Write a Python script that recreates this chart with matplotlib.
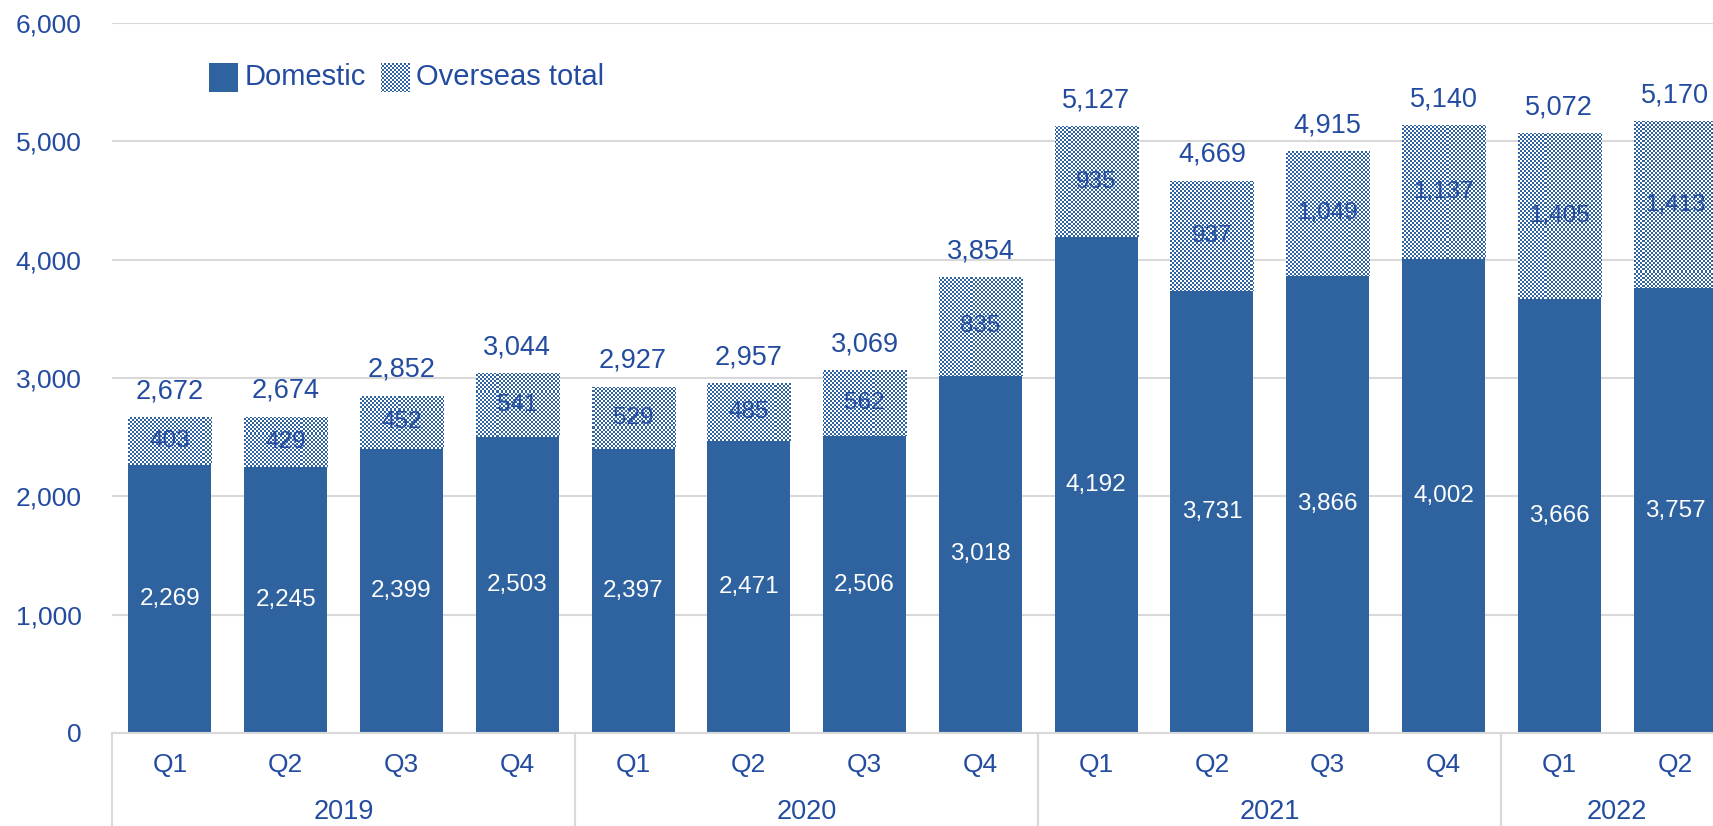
import numpy as np
import matplotlib
matplotlib.use("Agg")
import matplotlib.pyplot as plt
from matplotlib.patches import Rectangle
from matplotlib.transforms import blended_transform_factory

# ---- data -------------------------------------------------------------
quarters = ["Q1", "Q2", "Q3", "Q4", "Q1", "Q2", "Q3", "Q4",
            "Q1", "Q2", "Q3", "Q4", "Q1", "Q2"]
years = ["2019", "2020", "2021", "2022"]
year_spans = [(0, 3), (4, 7), (8, 11), (12, 13)]
domestic = [2269, 2245, 2399, 2503, 2397, 2471, 2506, 3018,
            4192, 3731, 3866, 4002, 3666, 3757]
overseas = [403, 429, 452, 541, 529, 485, 562, 835,
            935, 937, 1049, 1137, 1405, 1413]
totals = [2672, 2674, 2852, 3044, 2927, 2957, 3069, 3854,
          5127, 4669, 4915, 5140, 5072, 5170]
yticks = [0, 1000, 2000, 3000, 4000, 5000, 6000]

# ---- style ------------------------------------------------------------
BLUE = "#2E63A0"
TEXT = "#234BA0"
GRID = "#D9D9D9"
plt.rcParams["font.family"] = ["Liberation Sans", "DejaVu Sans"]

FS_TICK = 19
FS_TOTAL = 19.5
FS_INNER = 17.5
FS_CAT = 19
FS_YEAR = 19.5
FS_LEG = 21

W, H, DPI = 1713, 826, 100
fig = plt.figure(figsize=(W / DPI, H / DPI), dpi=DPI)

# axes in pixel units (the last category runs past the right edge)
ax_l, ax_b, ax_w, ax_h = 112, 93, 1621, 710
ax = fig.add_axes([ax_l / W, ax_b / H, ax_w / W, ax_h / H])

x = np.arange(len(quarters))
bar_w = 0.717

# pixel-level checkerboard texture for the overseas segments
yy, xx = np.mgrid[0:ax_h, 0:ax_w]
cell = ((yy // 2 + xx // 2) % 2 == 0)
blue_rgb = np.array(matplotlib.colors.to_rgb(BLUE))
white_rgb = np.ones(3)
checker = np.where(cell[..., None], blue_rgb, white_rgb)

XMIN, XMAX, YMIN, YMAX = -0.5, 13.5, 0, 6000


def fill_checker(patch):
    im = ax.imshow(checker, extent=(XMIN, XMAX, YMIN, YMAX), origin="upper",
                   interpolation="nearest", aspect="auto", zorder=2)
    im.set_clip_path(patch)


dom_bars = ax.bar(x, domestic, width=bar_w, color=BLUE, zorder=2, linewidth=0)
ovs_bars = ax.bar(x, overseas, width=bar_w, bottom=domestic,
                  facecolor="none", linewidth=0, zorder=2)
for b in ovs_bars:
    fill_checker(b)

ax.set_xlim(XMIN, XMAX)
ax.set_ylim(YMIN, YMAX)

# value labels
for i in range(len(x)):
    ax.text(x[i], domestic[i] / 2, f"{domestic[i]:,}", ha="center",
            va="center", color="white", fontsize=FS_INNER, zorder=4)
    ax.text(x[i], domestic[i] + overseas[i] / 2, f"{overseas[i]:,}",
            ha="center", va="center", color=TEXT, fontsize=FS_INNER, zorder=4)
    ax.annotate(f"{totals[i]:,}", (x[i], totals[i]), xytext=(0, 18.5),
                textcoords="offset points", ha="center", va="center",
                color=TEXT, fontsize=FS_TOTAL, zorder=4)

# axes styling
ax.set_yticks(yticks)
ax.set_yticklabels([f"{v:,}" for v in yticks], color=TEXT, fontsize=FS_TICK)
ax.tick_params(axis="y", length=0, pad=22)
ax.set_xticks([])
ax.yaxis.grid(True, color=GRID, linewidth=1.5)
ax.set_axisbelow(True)
for side in ("left", "right", "top"):
    ax.spines[side].set_visible(False)
ax.spines["bottom"].set_color(GRID)
ax.spines["bottom"].set_linewidth(1.5)

# two-level category axis
trans = blended_transform_factory(ax.transData, ax.transAxes)
q_y = -(765 - 733) / ax_h
yr_y = -(812 - 733) / ax_h
bottom_y = -(ax_b) / ax_h
for i, q in enumerate(quarters):
    ax.text(x[i], q_y, q, transform=trans, ha="center", va="center",
            color=TEXT, fontsize=FS_CAT)
for yr, (s, e) in zip(years, year_spans):
    ax.text((s + e) / 2, yr_y, yr, transform=trans, ha="center",
            va="center", color=TEXT, fontsize=FS_YEAR)
for s, e in year_spans:
    for xv in (s - 0.5, e + 0.5):
        ax.plot([xv, xv], [0, bottom_y], transform=trans, color=GRID,
                linewidth=1.5, clip_on=False, zorder=1)

# legend
def ax_frac(px, py_top):
    return (px - ax_l) / ax_w, (H - py_top - ax_b) / ax_h


sq = 29
lx1, ly = ax_frac(209, 92)
ax.add_patch(Rectangle((lx1, ly), sq / ax_w, sq / ax_h, transform=ax.transAxes,
                       facecolor=BLUE, linewidth=0, zorder=3))
tx, ty = ax_frac(245, 85)
ax.text(tx, ty, "Domestic", transform=ax.transAxes, ha="left",
        va="baseline", color=TEXT, fontsize=FS_LEG, zorder=3)
lx2, _ = ax_frac(381, 92)
leg2 = Rectangle((lx2, ly), sq / ax_w, sq / ax_h, transform=ax.transAxes,
                 facecolor="none", linewidth=0, zorder=3)
ax.add_patch(leg2)
fill_checker(leg2)
tx2, _ = ax_frac(416, 85)
ax.text(tx2, ty, "Overseas total", transform=ax.transAxes, ha="left",
        va="baseline", color=TEXT, fontsize=FS_LEG, zorder=3)

fig.savefig("out.png", dpi=DPI)
